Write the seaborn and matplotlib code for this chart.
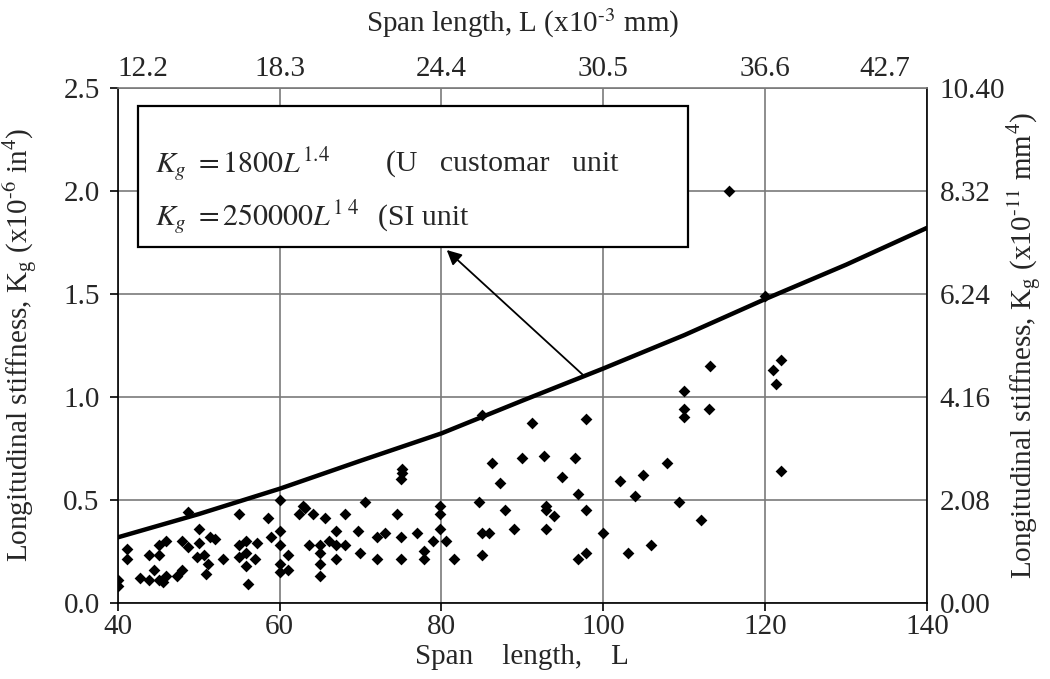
import numpy as np
import pandas as pd
import matplotlib
matplotlib.use("Agg")
import matplotlib.pyplot as plt
import matplotlib.transforms as mtransforms
from matplotlib.patches import Rectangle
import seaborn as sns

# --- data ---
span = [40.0, 40.0, 41.2, 41.2, 42.8, 43.9, 43.9, 44.5, 45.1, 45.1, 45.1, 45.6,
        46.0, 46.0, 47.3, 47.9, 47.9, 48.7, 48.7, 50.0, 50.0, 49.8, 50.6, 51.1,
        50.9, 51.4, 52.0, 53.0, 55.0, 55.0, 55.0, 55.9, 55.9, 55.9, 56.1, 57.0,
        57.2, 58.6, 58.9, 60.0, 60.0, 60.0, 60.0, 60.0, 61.0, 61.0, 62.4, 62.9,
        63.1, 63.6, 64.1, 65.0, 65.0, 65.0, 65.0, 65.6, 66.1, 67.0, 67.0, 67.0,
        68.1, 68.1, 69.7, 69.9, 70.6, 72.0, 72.0, 73.0, 74.5, 75.0, 75.0, 75.1,
        75.1, 75.0, 77.0, 77.9, 77.9, 78.9, 79.8, 79.8, 79.8, 80.6, 81.5, 84.6,
        85.0, 85.0, 85.0, 85.9, 86.3, 87.2, 87.8, 88.9, 90.0, 91.2, 92.7, 92.9,
        92.9, 92.9, 93.9, 94.9, 96.5, 96.9, 96.9, 97.9, 97.9, 97.9, 100.0, 102.0,
        103.0, 103.9, 104.9, 105.9, 107.8, 109.4, 109.9, 109.9, 109.9, 112.0,
        113.0, 113.2, 115.5, 120.0, 120.9, 121.3, 121.9, 121.9]
stiffness = [0.11, 0.08, 0.26, 0.21, 0.12, 0.11, 0.23, 0.16, 0.23, 0.28, 0.11, 0.10,
             0.30, 0.13, 0.13, 0.16, 0.30, 0.44, 0.27, 0.36, 0.29, 0.22, 0.23, 0.19,
             0.14, 0.32, 0.31, 0.21, 0.43, 0.28, 0.22, 0.30, 0.24, 0.18, 0.09, 0.21,
             0.29, 0.41, 0.32, 0.50, 0.35, 0.28, 0.19, 0.15, 0.23, 0.16, 0.43, 0.47,
             0.46, 0.28, 0.43, 0.28, 0.24, 0.19, 0.13, 0.41, 0.30, 0.35, 0.21, 0.28,
             0.43, 0.28, 0.35, 0.24, 0.49, 0.32, 0.21, 0.34, 0.43, 0.32, 0.21, 0.65,
             0.63, 0.60, 0.34, 0.25, 0.21, 0.30, 0.47, 0.43, 0.36, 0.30, 0.21, 0.49,
             0.34, 0.23, 0.91, 0.34, 0.68, 0.58, 0.45, 0.36, 0.70, 0.87, 0.71, 0.47,
             0.45, 0.36, 0.42, 0.61, 0.70, 0.53, 0.21, 0.89, 0.45, 0.24, 0.34, 0.59,
             0.24, 0.52, 0.62, 0.28, 0.68, 0.49, 1.03, 0.94, 0.90, 0.40,
             0.94, 1.15, 2.00, 1.49, 1.13, 1.06, 1.18, 0.64]

# fitted curve Kg = 1800 L^1.4, values read at every 10 units of span
curve_span = [40, 50, 60, 70, 80, 90, 100, 110, 120, 130, 140]
curve_kg = [0.317, 0.430, 0.553, 0.689, 0.822, 0.981, 1.137, 1.299, 1.474, 1.641, 1.82]

x_ticks = [40, 60, 80, 100, 120, 140]
top_labels = ["12.2", "18.3", "24.4", "30.5", "36.6", "42.7"]
y_ticks = [0.0, 0.5, 1.0, 1.5, 2.0, 2.5]
right_labels = ["0.00", "2.08", "4.16", "6.24", "8.32", "10.40"]

points = pd.DataFrame({"span": span, "kg": stiffness})
fit = pd.DataFrame({"span": curve_span, "kg": curve_kg})

sns.set_theme(style="white")
plt.rcParams["font.family"] = ["Liberation Serif", "DejaVu Serif"]
plt.rcParams["mathtext.fontset"] = "stix"
FS = 21
BOX_FS = 21.5

fig = plt.figure(figsize=(10.5, 6.79), dpi=100)
ax = fig.add_axes([0.1121, 0.1124, 0.7709, 0.7584])

ax.grid(True, color="#7a7a7a", linewidth=1.2, zorder=0)
ax.set_axisbelow(True)

sns.lineplot(data=fit, x="span", y="kg", ax=ax, color="black", linewidth=3.2,
             zorder=3, legend=False)
sns.scatterplot(data=points, x="span", y="kg", ax=ax, marker="D", color="black",
                s=36, edgecolor="black", linewidth=0, zorder=4, legend=False)

ax.set_xlim(40, 140)
ax.set_ylim(0, 2.5)
ax.set_xticks(x_ticks)
ax.set_yticks(y_ticks)
ax.set_xticklabels([str(v) for v in x_ticks], fontsize=FS)
ax.set_yticklabels(["%.1f" % v for v in y_ticks], fontsize=FS)
ax.tick_params(axis="x", direction="out", length=6, width=1.2, color="black",
               pad=2, bottom=True)
ax.tick_params(axis="y", direction="out", length=6, width=1.2, color="black",
               pad=7, left=True)
ax.set_xlabel("Span    length,    L", fontsize=FS)
ax.set_ylabel(r"Longitudinal stiffness, K$_\mathregular{g}$ (x10$^\text{-6}$ in$^\mathregular{4}$)",
              fontsize=FS)
ax.xaxis.set_label_coords(0.5, -0.08)
ax.yaxis.set_label_coords(-0.096, 0.5)

for side in ["left", "bottom", "right"]:
    ax.spines[side].set_color("black")
    ax.spines[side].set_linewidth(1.2)
ax.spines["top"].set_color("#7a7a7a")
ax.spines["top"].set_linewidth(1.2)

# right axis (SI units)
ax_r = ax.twinx()
ax_r.set_ylim(0, 2.5)
ax_r.set_yticks(y_ticks)
ax_r.set_yticklabels(right_labels, fontsize=FS)
ax_r.tick_params(axis="y", length=0, pad=9, right=True)
ax_r.set_ylabel(r"Longitudinal stiffness, K$_\mathregular{g}$ (x10$^\text{-11}$ mm$^\mathregular{4}$)",
                fontsize=FS)
ax_r.yaxis.set_label_coords(1.097, 0.5)
ax_r.grid(False)
for s in ax_r.spines.values():
    s.set_visible(False)

# top axis (SI units)
ax_t = ax.twiny()
ax_t.set_xlim(40, 140)
ax_t.set_xticks(x_ticks)
ax_t.set_xticklabels(top_labels, fontsize=FS)
ax_t.tick_params(axis="x", length=0, pad=4, top=True)
ax_t.set_xlabel(r"Span length, L (x10$^\text{-3}$ mm)", fontsize=FS)
ax_t.xaxis.set_label_coords(0.5, 1.108)
ax_t.grid(False)
for s in ax_t.spines.values():
    s.set_visible(False)
tl = ax_t.get_xticklabels()
tl[0].set_ha("left")
tl[-1].set_ha("right")
tl[-1].set_transform(tl[-1].get_transform() +
                     mtransforms.ScaledTranslation(-0.17, 0, fig.dpi_scale_trans))

# equation box
ax.add_patch(Rectangle((42.5, 1.727), 67.9, 0.683, facecolor="white",
                       edgecolor="black", linewidth=1.6, zorder=5))
ax.text(44.6, 2.13, r"$K_g\ =1800L^{1.4}$", fontsize=BOX_FS, va="center", zorder=6)
ax.text(73.2, 2.13, "(U   customar   unit", fontsize=BOX_FS, va="center", zorder=6)
ax.text(44.6, 1.87, r"$K_g\ = 250000L^{1\ 4}$", fontsize=BOX_FS, va="center", zorder=6)
ax.text(72.2, 1.87, "(SI unit", fontsize=BOX_FS, va="center", zorder=6)

ax.annotate("", xy=(80.65, 1.712), xytext=(97.5, 1.105),
            arrowprops=dict(arrowstyle="-|>", color="black", lw=1.3,
                            mutation_scale=22, shrinkA=0, shrinkB=0),
            zorder=6)

fig.savefig("out.png", dpi=100)
